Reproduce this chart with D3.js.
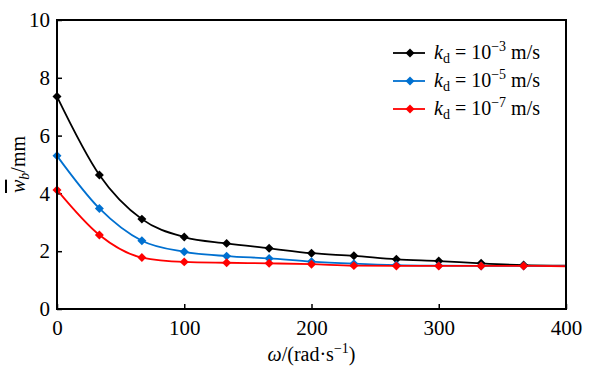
<!DOCTYPE html>
<html>
<head>
<meta charset="utf-8">
<script src="https://cdn.jsdelivr.net/npm/d3@7"></script>
<style>
  body { margin: 0; background: #fff; }
</style>
</head>
<body>
<svg width="596" height="371"></svg>
<script>
// omega (rad/s) and mean displacement (mm) for three kd values
const omega = [0, 33.3, 66.7, 100, 133.3, 166.7, 200, 233.3, 266.7, 300, 333.3, 366.7, 400];
const kd3 = [7.35, 4.64, 3.11, 2.49, 2.27, 2.10, 1.93, 1.84, 1.72, 1.66, 1.58, 1.52, 1.50];
const kd5 = [5.30, 3.48, 2.36, 1.98, 1.83, 1.75, 1.64, 1.57, 1.52, 1.50, 1.49, 1.49, 1.49];
const kd7 = [4.12, 2.56, 1.78, 1.63, 1.60, 1.58, 1.55, 1.50, 1.49, 1.49, 1.49, 1.49, 1.48];
const expo = ["−3", "−5", "−7"];
const colors = ["#000000", "#0070d0", "#ff0000"];
const xTicks = [0, 100, 200, 300, 400];
const yTicks = [0, 2, 4, 6, 8, 10];

const FONT = '"Liberation Serif"';

var svg = d3.select("svg"),
  margin = { top: 20, right: 30, bottom: 62, left: 57 },
  width = +svg.attr("width") - margin.left - margin.right,
  height = +svg.attr("height") - margin.top - margin.bottom;

var g = svg.append("g").attr("transform", "translate(" + margin.left + "," + margin.top + ")");

var x = d3.scaleLinear().domain([0, 400]).range([0, width]);
var y = d3.scaleLinear().domain([0, 10]).range([height, 0]);

// axes, ticks point inward
var xAxis = g.append("g")
  .attr("transform", "translate(0," + height + ")")
  .call(d3.axisBottom(x).tickValues(xTicks).tickSize(-5).tickPadding(11));
var yAxis = g.append("g")
  .call(d3.axisLeft(y).tickValues(yTicks).tickSize(-5).tickPadding(7));
[xAxis, yAxis].forEach(a => {
  a.select(".domain").remove();
  a.selectAll("line").attr("stroke", "#000").attr("stroke-width", 1.5);
  a.selectAll("text")
    .style("font-family", FONT)
    .style("font-size", "21px")
    .attr("fill", "#000");
});

var series = [kd3, kd5, kd7];
var line = d3.line()
  .x(d => x(d[0]))
  .y(d => y(d[1]))
  .curve(d3.curveMonotoneX);
// square turned 45deg -> diamond like the original markers
var diamond = d3.symbol().type(d3.symbolSquare).size(40);

series.forEach((vals, i) => {
  var pts = omega.map((w, j) => [w, vals[j]]);
  g.append("path")
    .datum(pts)
    .attr("d", line)
    .attr("fill", "none")
    .attr("stroke", colors[i])
    .attr("stroke-width", 1.8);
  g.selectAll(".m" + i)
    .data(pts.filter(d => d[0] < 400))
    .enter()
    .append("path")
    .attr("class", "m" + i)
    .attr("d", diamond)
    .attr("transform", d => `translate(${x(d[0])},${y(d[1])}) rotate(45)`)
    .attr("fill", colors[i]);
});

// frame
g.append("rect")
  .attr("width", width)
  .attr("height", height)
  .attr("fill", "none")
  .attr("stroke", "#000")
  .attr("stroke-width", 2);

// legend
var lg = svg.selectAll(".legendItem")
  .data(expo)
  .enter()
  .append("g")
  .attr("class", "legendItem")
  .attr("transform", (d, i) => `translate(393,${53 + i * 28})`);
lg.append("line")
  .attr("x1", 0).attr("x2", 32)
  .attr("stroke", (d, i) => colors[i])
  .attr("stroke-width", 1.8);
lg.append("path")
  .attr("d", diamond)
  .attr("transform", "translate(17,0) rotate(45)")
  .attr("fill", (d, i) => colors[i]);
var lt = lg.append("text")
  .attr("x", 41)
  .attr("y", 6)
  .style("font-family", FONT)
  .style("font-size", "20px");
lt.append("tspan").attr("font-style", "italic").text("k");
lt.append("tspan").attr("dy", 4).style("font-size", "14px").text("d");
lt.append("tspan").attr("dy", -4).text(" = 10");
lt.append("tspan").attr("dy", -8).style("font-size", "14px").text(d => d);
lt.append("tspan").attr("dy", 8).text(" m/s");

// x label
var xl = svg.append("text")
  .attr("x", margin.left + width / 2)
  .attr("y", 361)
  .attr("text-anchor", "middle")
  .style("font-family", FONT)
  .style("font-size", "20px");
xl.append("tspan").attr("font-style", "italic").text("ω");
xl.append("tspan").text("/(rad·s");
xl.append("tspan").attr("dy", -8).style("font-size", "14px").text("−1");
xl.append("tspan").attr("dy", 8).text(")");

// y label
var yl = svg.append("text")
  .attr("transform", "translate(25," + (margin.top + height / 2) + ") rotate(-90)")
  .attr("text-anchor", "middle")
  .style("font-family", FONT)
  .style("font-size", "20px");
yl.append("tspan").attr("font-style", "italic").style("text-decoration", "overline").text("w");
yl.append("tspan").attr("font-style", "italic").attr("dy", 4).style("font-size", "14px").text("b");
yl.append("tspan").attr("dy", -4).text("/mm");
</script>
</body>
</html>
